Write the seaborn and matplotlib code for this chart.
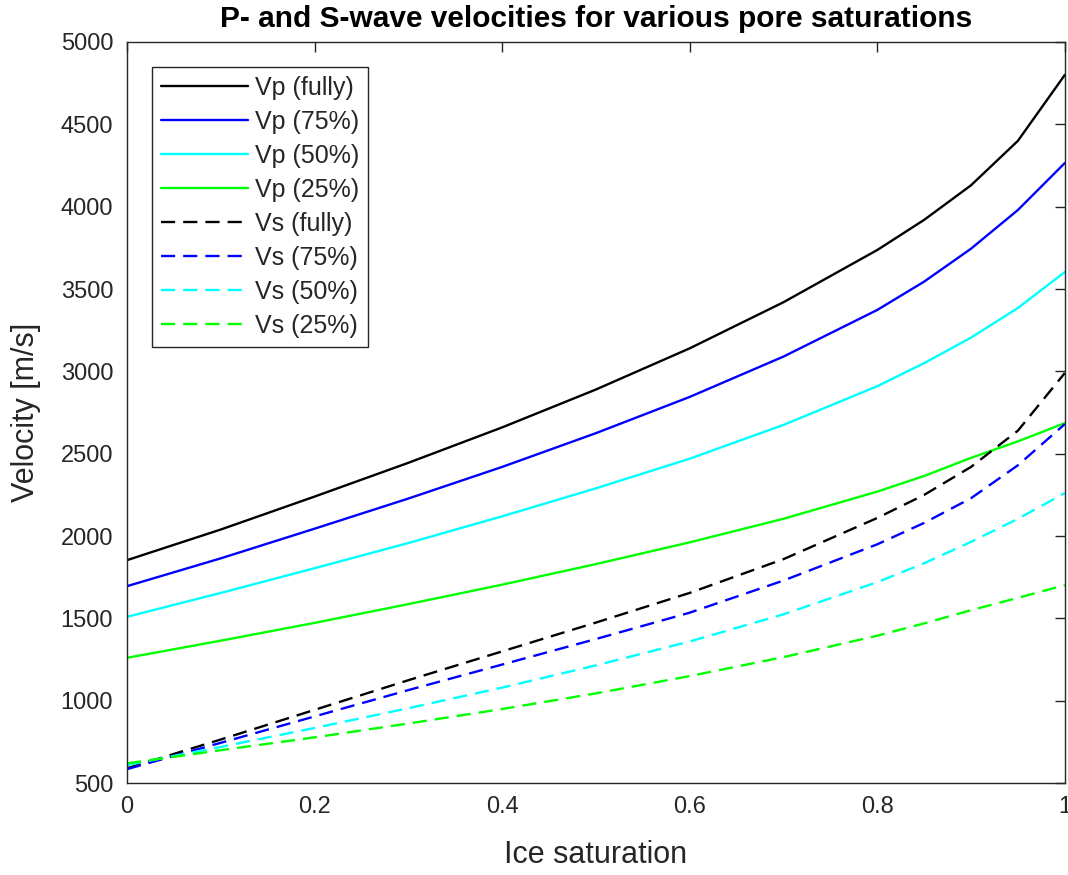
import matplotlib
matplotlib.use("Agg")
import matplotlib.pyplot as plt
import seaborn as sns
import pandas as pd

ice_sat = [0.0, 0.1, 0.2, 0.3, 0.4, 0.5, 0.6, 0.7, 0.8, 0.85, 0.9, 0.95, 1.0]

vp_fully = [1854, 2040, 2240, 2445, 2660, 2890, 3140, 3420, 3737, 3920, 4130, 4400, 4800]
vp_75 = [1696, 1865, 2045, 2228, 2420, 2625, 2845, 3090, 3373, 3545, 3745, 3980, 4265]
vp_50 = [1510, 1655, 1805, 1958, 2120, 2290, 2470, 2675, 2910, 3050, 3205, 3385, 3603]
vp_25 = [1261, 1365, 1473, 1587, 1705, 1830, 1962, 2105, 2270, 2365, 2475, 2575, 2686]

vs_fully = [590, 765, 945, 1125, 1300, 1475, 1655, 1860, 2110, 2250, 2420, 2640, 2990]
vs_75 = [585, 745, 905, 1065, 1220, 1375, 1535, 1730, 1950, 2080, 2230, 2430, 2680]
vs_50 = [610, 720, 835, 955, 1080, 1215, 1360, 1525, 1720, 1835, 1965, 2105, 2261]
vs_25 = [620, 700, 778, 862, 950, 1045, 1150, 1265, 1395, 1470, 1550, 1625, 1702]

labels = ["Vp (fully)", "Vp (75%)", "Vp (50%)", "Vp (25%)",
          "Vs (fully)", "Vs (75%)", "Vs (50%)", "Vs (25%)"]
series = [vp_fully, vp_75, vp_50, vp_25, vs_fully, vs_75, vs_50, vs_25]
colors = ["#000000", "#0000ff", "#00ffff", "#00ff00",
          "#000000", "#0000ff", "#00ffff", "#00ff00"]

x_ticks = [0, 0.2, 0.4, 0.6, 0.8, 1]
y_ticks = [500, 1000, 1500, 2000, 2500, 3000, 3500, 4000, 4500, 5000]

sns.set_style("white")
plt.rcParams["font.family"] = ["Liberation Sans", "DejaVu Sans"]

fig = plt.figure(figsize=(10.68, 8.75), dpi=100)
ax = fig.add_axes([0.119, 0.105, 0.878, 0.847])

for i, (lab, vals, col) in enumerate(zip(labels, series, colors)):
    df = pd.DataFrame({"x": ice_sat, "y": vals})
    sns.lineplot(data=df, x="x", y="y", ax=ax, color=col, linewidth=1.7,
                 label=lab)
    if i >= 4:
        ax.lines[-1].set_dashes((6, 3.4))

ax.set_xlim(0, 1)
ax.set_ylim(500, 5000)
ax.set_xticks(x_ticks)
ax.set_xticklabels([f"{t:g}" for t in x_ticks])
ax.set_yticks(y_ticks)

edge = "#262626"
for s in ax.spines.values():
    s.set_visible(True)
    s.set_color(edge)
    s.set_linewidth(1.0)
ax.tick_params(direction="in", length=7, width=1.0, colors=edge,
               labelsize=17, top=True, right=True)
ax.tick_params(axis="y", pad=10)
ax.tick_params(axis="x", pad=9)

ax.set_xlabel("Ice saturation", fontsize=22, color=edge, labelpad=16)
ax.set_ylabel("Velocity [m/s]", fontsize=22, color=edge, labelpad=14)
ax.set_title("P- and S-wave velocities for various pore saturations",
             fontsize=21.5, fontweight="bold", color="#000000", pad=11)

leg = ax.legend(loc="upper left", fontsize=18, frameon=True, fancybox=False,
                edgecolor="#262626", framealpha=1, handlelength=3.5,
                handletextpad=0.25, labelspacing=0.4,
                borderaxespad=1.0, borderpad=0.35)
leg.get_frame().set_linewidth(1.0)
for t in leg.get_texts():
    t.set_color(edge)

fig.savefig("out.png", dpi=100)
